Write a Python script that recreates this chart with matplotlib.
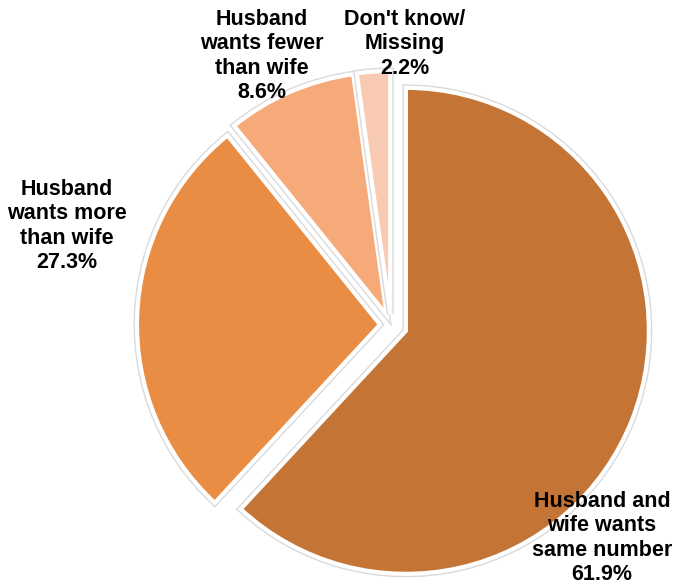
import matplotlib.pyplot as plt
import matplotlib.patheffects as pe

# fertility preference agreement between husband and wife
labels = ['Husband and\nwife wants\nsame number', 'Husband\nwants more\nthan wife',
          'Husband\nwants fewer\nthan wife', "Don't know/\nMissing"]
shares = [61.9, 27.3, 8.6, 2.2]
colors = ['#C47535', '#E88D43', '#F6AA7A', '#F8CAB2']

plt.rcParams['font.family'] = ['Liberation Sans', 'DejaVu Sans']

fig = plt.figure(figsize=(6.74, 5.84), dpi=100)
ax = fig.add_axes([0, 0, 1, 1])

# pixel-ish coordinates, y going up
W, H = 674, 584
cx, cy, r = 391, H - 325, 243
explode = [16, 11, 11, 11]  # pie offsets are in data units here

wedges, _ = ax.pie(shares, colors=colors, startangle=90, counterclock=False,
                   center=(cx, cy), radius=r, explode=explode,
                   wedgeprops=dict(edgecolor='white', linewidth=3))
for w in wedges:
    w.set_path_effects([pe.Stroke(linewidth=5, foreground='#dadada'), pe.Normal()])

ax.set_xlim(0, W)
ax.set_ylim(0, H)
ax.set_aspect('equal')
ax.axis('off')

label_pos = [(602, H - 538), (67, H - 226), (262, H - 56), (405, H - 44)]
for lab, val, (x, y) in zip(labels, shares, label_pos):
    ax.text(x, y, f'{lab}\n{val}%', ha='center', va='center', fontsize=15.5,
            fontweight='bold', linespacing=1.22)

fig.savefig('out.png', dpi=100)
